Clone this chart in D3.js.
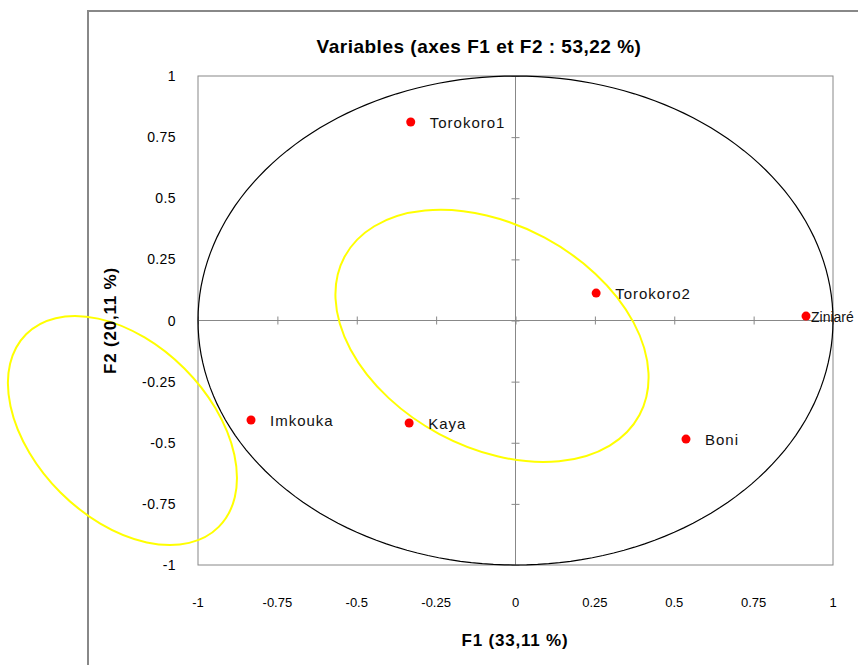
<!DOCTYPE html>
<html>
<head>
<meta charset="utf-8">
<script src="https://cdn.jsdelivr.net/npm/d3@7"></script>
<style>
  body { margin: 0; background: #fff; }
  text { font-family: "Liberation Sans", Arial, sans-serif; }
</style>
</head>
<body>
<div id="chart"></div>
<script>
// données
const variables = ["Torokoro1", "Torokoro2", "Ziniaré", "Imkouka", "Kaya", "Boni"];
const f1Values = [-0.33, 0.254, 0.915, -0.833, -0.335, 0.537];
const f2Values = [0.812, 0.112, 0.018, -0.407, -0.419, -0.485];
const tickValues = [-1, -0.75, -0.5, -0.25, 0, 0.25, 0.5, 0.75, 1];

// ellipses jaunes (annotations) : centre, demi-axes, angle
const ellipseCx = [-0.074, -1.238];
const ellipseCy = [-0.063, -0.45];
const ellipseA = [0.527, 0.429];
const ellipseB = [0.351, 0.276];
const ellipseAngle = [28.2, 45];

const width = 858, height = 665;
const plot = { left: 198, right: 833, top: 76, bottom: 565 };

const svg = d3.select('#chart').append('svg')
    .attr('width', width)
    .attr('height', height);

// cadre extérieur
svg.append('rect')
    .attr('x', 88).attr('y', 11)
    .attr('width', 800).attr('height', 700)
    .attr('fill', 'none')
    .attr('stroke', '#888')
    .attr('stroke-width', 2);

const x = d3.scaleLinear().domain([-1, 1]).range([plot.left, plot.right]);
const y = d3.scaleLinear().domain([-1, 1]).range([plot.bottom, plot.top]);

// zone de tracé
svg.append('rect')
    .attr('x', plot.left).attr('y', plot.top)
    .attr('width', plot.right - plot.left)
    .attr('height', plot.bottom - plot.top)
    .attr('fill', 'none')
    .attr('stroke', '#888')
    .attr('stroke-width', 1);

// axes qui se croisent en 0
const xAxis = d3.axisBottom(x).tickValues(tickValues).tickSize(8).tickFormat('');
svg.append('g')
    .attr('transform', `translate(0,${y(0) - 4})`)
    .call(xAxis)
    .call(g => g.select('.domain').remove())
    .call(g => g.selectAll('line').attr('stroke', '#888'));
svg.append('line')
    .attr('x1', plot.left).attr('x2', plot.right)
    .attr('y1', y(0)).attr('y2', y(0))
    .attr('stroke', '#888');

const yAxis = d3.axisRight(y).tickValues(tickValues).tickSize(8).tickFormat('');
svg.append('g')
    .attr('transform', `translate(${x(0) - 4},0)`)
    .call(yAxis)
    .call(g => g.select('.domain').remove())
    .call(g => g.selectAll('line').attr('stroke', '#888'));
svg.append('line')
    .attr('x1', x(0)).attr('x2', x(0))
    .attr('y1', plot.top).attr('y2', plot.bottom)
    .attr('stroke', '#888');

// étiquettes des graduations
svg.append('g')
    .selectAll('text')
    .data(tickValues)
    .enter().append('text')
    .attr('x', 176)
    .attr('y', d => y(d) + 5)
    .attr('text-anchor', 'end')
    .style('font-size', '14px')
    .style('letter-spacing', '0.4px')
    .text(d => d);

svg.append('g')
    .selectAll('text')
    .data(tickValues)
    .enter().append('text')
    .attr('x', d => x(d))
    .attr('y', 607)
    .attr('text-anchor', 'middle')
    .style('font-size', '13px')
    .text(d => d);

// cercle des corrélations
const circle = d3.range(0, 361, 2).map(a => [Math.cos(a * Math.PI / 180), Math.sin(a * Math.PI / 180)]);
svg.append('path')
    .datum(circle)
    .attr('d', d3.line().x(d => x(d[0])).y(d => y(d[1])))
    .attr('fill', 'none')
    .attr('stroke', '#000')
    .attr('stroke-width', 1.2);

// ellipses jaunes
const k = x(1) - x(0);
svg.append('g')
    .selectAll('ellipse')
    .data(ellipseCx)
    .enter().append('ellipse')
    .attr('cx', 0).attr('cy', 0)
    .attr('rx', (d, i) => ellipseA[i] * k)
    .attr('ry', (d, i) => ellipseB[i] * k)
    .attr('transform', (d, i) => `translate(${x(d)},${y(ellipseCy[i])}) rotate(${ellipseAngle[i]})`)
    .attr('fill', 'none')
    .attr('stroke', '#ffff00')
    .attr('stroke-width', 2);

// points
const pts = variables.map((v, i) => ({ name: v, f1: f1Values[i], f2: f2Values[i] }));
svg.append('g')
    .selectAll('circle')
    .data(pts)
    .enter().append('circle')
    .attr('cx', d => x(d.f1))
    .attr('cy', d => y(d.f2))
    .attr('r', 4.5)
    .attr('fill', '#ff0000');

// Ziniaré touche le bord droit : plus serré
svg.append('g')
    .selectAll('text')
    .data(pts)
    .enter().append('text')
    .attr('x', d => x(d.f1) + (d.name === 'Ziniaré' ? 5 : 19))
    .attr('y', d => y(d.f2) + 6)
    .style('font-size', d => d.name === 'Ziniaré' ? '14px' : '15px')
    .style('letter-spacing', d => d.name === 'Ziniaré' ? '0px' : '1px')
    .attr('fill', '#111')
    .text(d => d.name);

// titres
svg.append('text')
    .attr('x', 479).attr('y', 53)
    .attr('text-anchor', 'middle')
    .style('font-size', '19px')
    .style('letter-spacing', '0.5px')
    .style('font-weight', 'bold')
    .text('Variables (axes F1 et F2 : 53,22 %)');

svg.append('text')
    .attr('x', 515).attr('y', 646)
    .attr('text-anchor', 'middle')
    .style('font-size', '17px')
    .style('letter-spacing', '0.8px')
    .style('font-weight', 'bold')
    .text('F1 (33,11 %)');

svg.append('text')
    .attr('transform', `translate(116,${y(0)}) rotate(-90)`)
    .attr('text-anchor', 'middle')
    .style('font-size', '17px')
    .style('letter-spacing', '0.8px')
    .style('font-weight', 'bold')
    .text('F2 (20,11 %)');
</script>
</body>
</html>
